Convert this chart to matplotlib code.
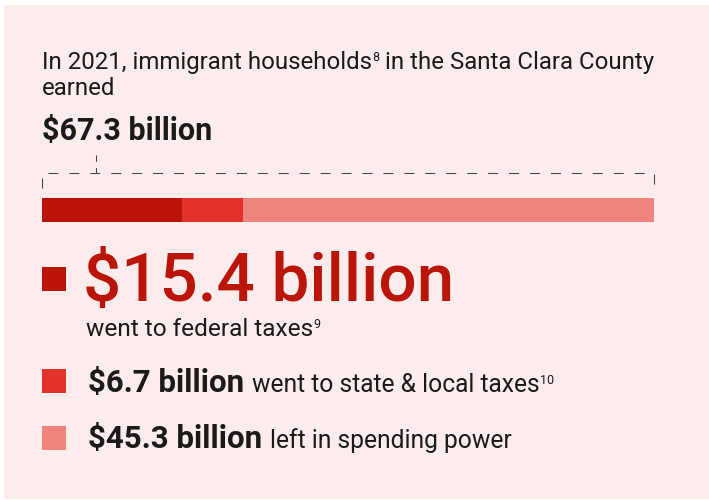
import matplotlib
matplotlib.use("Agg")
import matplotlib.pyplot as plt
from matplotlib.patches import Rectangle

plt.rcParams['font.family'] = ['Roboto', 'DejaVu Sans']

# Data
total = 67.3
labels = ['$15.4 billion', '$6.7 billion', '$45.3 billion']
values = [15.4, 6.7, 45.3]
notes = ['went to federal taxes', 'went to state & local taxes', 'left in spending power']
note_refs = ['9', '10', '']
colors = ['#BB1409', '#E2322A', '#EF847D']
total_label = '$67.3 billion'

W, H = 709, 500
fig = plt.figure(figsize=(W / 100, H / 100), dpi=100)
fig.patch.set_facecolor('white')
fig.canvas.draw()
r = fig.canvas.get_renderer()
ink = '#1a1a1a'


def fx(px):
    return px / W


def fy(py):
    return 1 - py / H


def write(x, base, pieces):
    # pieces: (text, size, weight, color, raise_px, gap_before_px)
    for txt, size, weight, color, up, gap in pieces:
        x += gap
        t = fig.text(fx(x), fy(base - up), txt, fontsize=size, fontweight=weight,
                     color=color, va='baseline')
        x = t.get_window_extent(renderer=r).x1
    return x


# Background panel
fig.patches.append(Rectangle((fx(4), fy(499)), fx(705), 494 / H, transform=fig.transFigure,
                             facecolor='#FCECEB', edgecolor='none', zorder=-5))

# Header text
write(42, 69, [('In 2021, immigrant households', 17.3, 'normal', ink, 0, 0),
               ('8', 9, 'normal', ink, 8, 0),
               (' in the Santa Clara County', 17.3, 'normal', ink, 0, 0)])
write(42, 95, [('earned', 17.3, 'normal', ink, 0, 0)])
write(42, 140, [(total_label, 22, 'bold', ink, 0, 0)])

# Stacked bar with dashed bracket (axes in pixel-like y units)
ax = fig.add_axes([fx(42), fy(222), fx(612), 70 / H])
ax.set_xlim(0, total)
ax.set_ylim(222, 152)
ax.axis('off')
left = 0
for v, c in zip(values, colors):
    ax.barh(210, v, left=left, height=24, color=c, linewidth=0)
    left += v
ax.plot([0, 0, total, total], [188, 173, 173, 188], color='#444444', lw=0.75,
        dashes=(9.6, 10.5), clip_on=False)
ax.plot([total * 0.088] * 2, [155, 173], color='#444444', lw=0.75,
        dashes=(6, 6), clip_on=False)

# Legend rows
sq = 24
rows_y = [267, 369, 426]
for y, c in zip(rows_y, colors):
    fig.patches.append(Rectangle((fx(42), fy(y + sq)), fx(sq), sq / H, transform=fig.transFigure,
                                 facecolor=c, edgecolor='none'))

write(83, 301, [(labels[0], 48.5, 'medium', colors[0], 0, 0)])
write(86, 336, [(notes[0], 17.6, 'normal', ink, 0, 0),
                (note_refs[0], 9, 'normal', ink, 8, 0)])

for i, base in zip([1, 2], [392, 448]):
    pieces = [(labels[i], 22.5, 'bold', ink, 0, 0),
              (notes[i], 17.7, 'normal', ink, 0, 8)]
    if note_refs[i]:
        pieces.append((note_refs[i], 9, 'normal', ink, 8, 0))
    write(88, base, pieces)

fig.savefig('out.png', dpi=100, facecolor=fig.get_facecolor())
